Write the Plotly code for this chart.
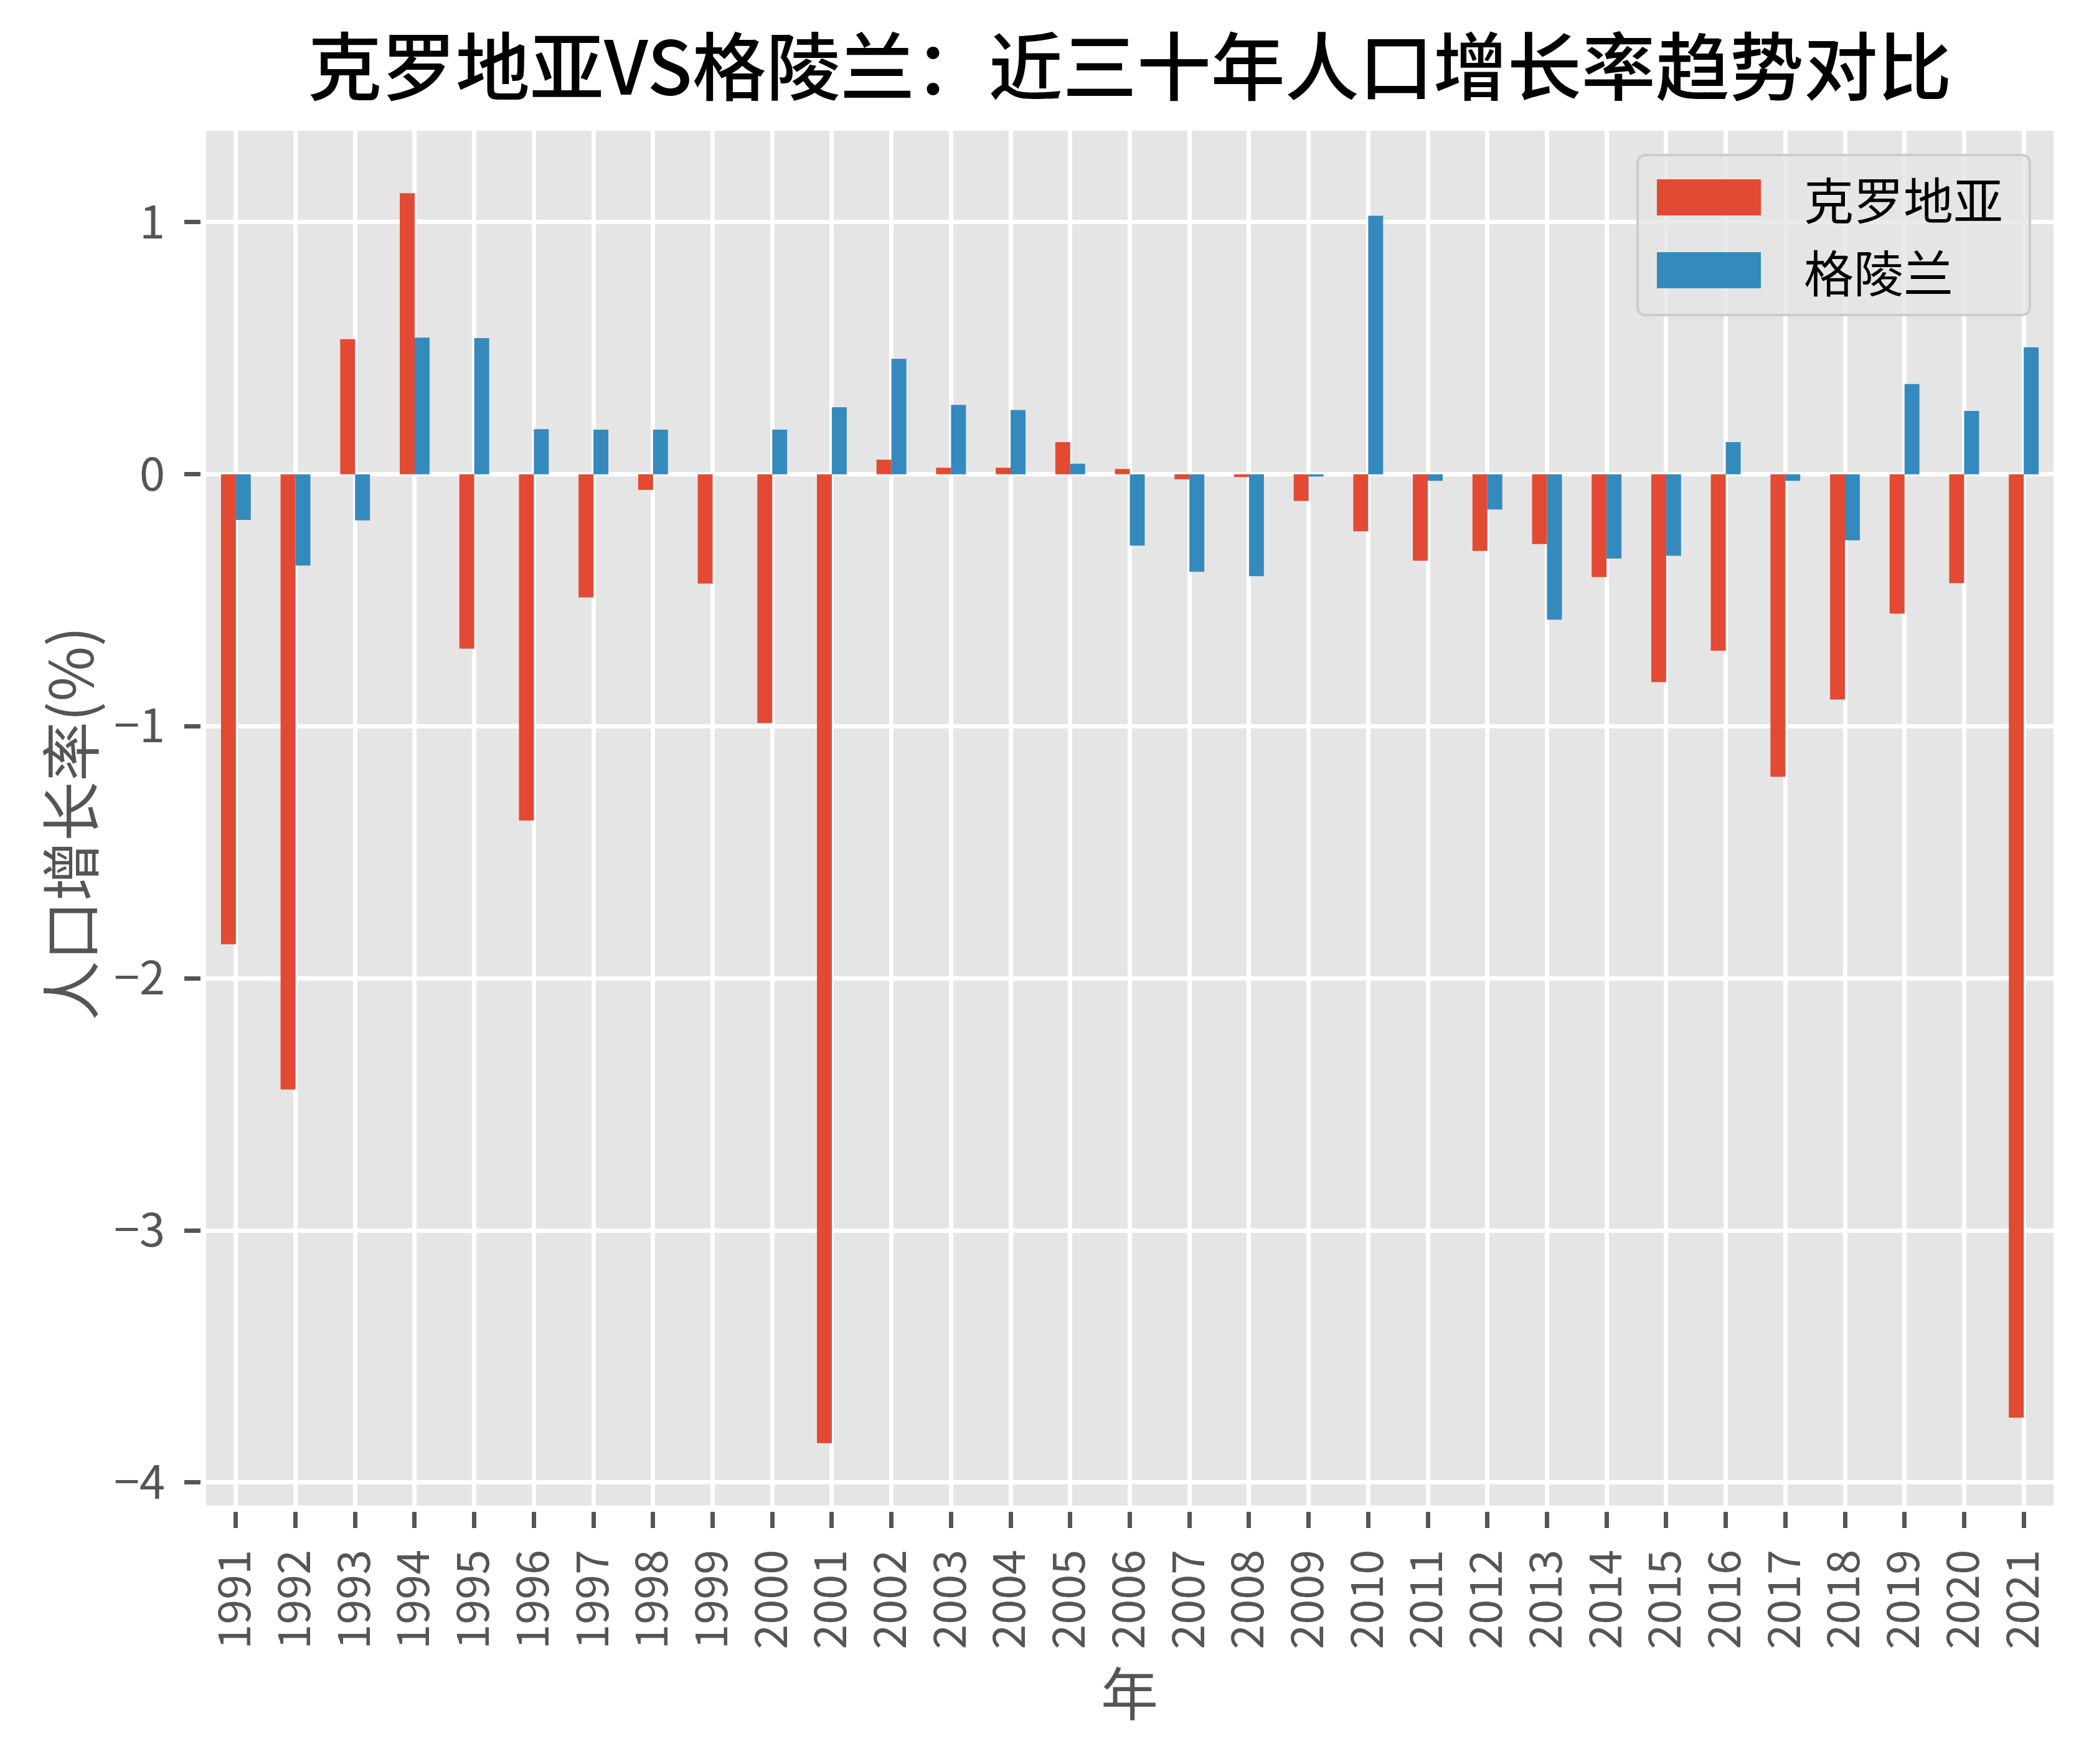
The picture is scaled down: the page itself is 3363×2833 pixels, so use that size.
import plotly.graph_objects as go

years = [str(y) for y in range(1991, 2022)]
croatia = [-1.865, -2.441, 0.536, 1.115, -0.692, -1.374, -0.489, -0.062, -0.434, -0.987,
           -3.844, 0.058, 0.026, 0.026, 0.128, 0.021, -0.020, -0.011, -0.106, -0.226,
           -0.343, -0.304, -0.277, -0.408, -0.825, -0.700, -1.200, -0.894, -0.553, -0.432,
           -3.743]
greenland = [-0.181, -0.362, -0.183, 0.542, 0.540, 0.179, 0.177, 0.177, 0.0, 0.177,
             0.266, 0.458, 0.275, 0.255, 0.042, -0.283, -0.387, -0.404, -0.009, 1.026,
             -0.026, -0.140, -0.577, -0.334, -0.323, 0.128, -0.026, -0.262, 0.358, 0.251,
             0.504]
series_names = ["克罗地亚", "格陵兰"]
colors = ["#E24A33", "#348ABD"]
y_ticks = [-4, -3, -2, -1, 0, 1]

FONT = "Noto Sans CJK SC"
W, H = 3363, 2833
# plot area (pixels)
PX0, PX1, PY0, PY1 = 331, 3298, 210, 2418
GAP = 9  # gap between plot area and tick marks
L, R, T, B = PX0 - GAP, W - PX1, PY0, H - PY1 - GAP
OW, OH = W - L - R, H - T - B

fig = go.Figure()
for name, vals, c in zip(series_names, [croatia, greenland], colors):
    fig.add_trace(go.Bar(x=years, y=vals, name=name, marker=dict(color=c, line=dict(width=0)),
                         showlegend=False))

lo = min(min(croatia), min(greenland))
hi = max(max(croatia), max(greenland))
pad = (hi - lo) * 0.05

fig.update_layout(
    width=W, height=H,
    margin=dict(l=L, r=R, t=T, b=B),
    paper_bgcolor="white", plot_bgcolor="#E5E5E5",
    barmode="group", bargap=0.5, bargroupgap=0,
    font=dict(family=FONT, color="#555555"),
    title=dict(text="克罗地亚VS格陵兰：近三十年人口增长率趋势对比",
               font=dict(family=FONT, size=119, color="black", weight=500),
               x=((PX0 + PX1) / 2) / W, xanchor="center", y=1 - 110 / H, yanchor="middle"),
)
fig.update_xaxes(
    type="category", range=[-0.5, len(years) - 0.5],
    domain=[GAP / OW, 1], anchor="free", position=0,
    showgrid=True, gridcolor="white", gridwidth=7,
    ticks="outside", ticklen=26, tickwidth=7, tickcolor="#555555",
    tickangle=-90, tickfont=dict(family=FONT, size=72, color="#555555"),
    ticklabelstandoff=6,
    showline=False, zeroline=False,
)
fig.update_yaxes(
    range=[lo - pad, hi + pad],
    domain=[GAP / OH, 1], anchor="free", position=0,
    tickvals=y_ticks,
    showgrid=True, gridcolor="white", gridwidth=7,
    ticks="outside", ticklen=26, tickwidth=7, tickcolor="#555555",
    tickfont=dict(family=FONT, size=74, color="#555555"),
    ticklabelstandoff=16,
    showline=False, zeroline=False,
)

def px(x):
    return (x - L) / OW

def py(y):
    return (H - B - y) / OH

# axis titles
fig.add_annotation(x=px((PX0 + PX1) / 2), y=py(2714), xref="paper", yref="paper",
                   text="年", showarrow=False, xanchor="center", yanchor="middle",
                   font=dict(family=FONT, size=92, color="#555555"))
fig.add_annotation(x=px(108), y=py((PY0 + PY1) / 2 + 8), xref="paper", yref="paper",
                   text="人口增长率(%)", showarrow=False, xanchor="center", yanchor="middle",
                   textangle=-90, font=dict(family=FONT, size=96, color="#555555"))

# custom legend
bx0, bx1, by0, by1 = 2630, 3260, 249, 506
r = 14
rx, ry = r / OW, r / OH
X0, X1, Y0, Y1 = px(bx0), px(bx1), py(by1), py(by0)
path = (f"M{X0+rx},{Y0} L{X1-rx},{Y0} Q{X1},{Y0} {X1},{Y0+ry} L{X1},{Y1-ry} "
        f"Q{X1},{Y1} {X1-rx},{Y1} L{X0+rx},{Y1} Q{X0},{Y1} {X0},{Y1-ry} "
        f"L{X0},{Y0+ry} Q{X0},{Y0} {X0+rx},{Y0} Z")
fig.add_shape(type="path", path=path, xref="paper", yref="paper",
              fillcolor="rgba(229,229,229,0.8)", line=dict(color="#CCCCCC", width=4))
rows = [(288, 346), (405, 463)]
for (ya, yb), name, c in zip(rows, series_names, colors):
    fig.add_shape(type="rect", xref="paper", yref="paper",
                  x0=px(2661), x1=px(2828), y0=py(yb), y1=py(ya),
                  fillcolor=c, line=dict(width=0))
    fig.add_annotation(x=px(2895), y=py((ya + yb) / 2), xref="paper", yref="paper",
                       text=name, showarrow=False, xanchor="left", yanchor="middle",
                       font=dict(family=FONT, size=80, color="black"))

fig.write_html("out.html", config={"displayModeBar": False},
               post_script="document.body.style.margin='0';document.body.style.overflow='hidden';")
